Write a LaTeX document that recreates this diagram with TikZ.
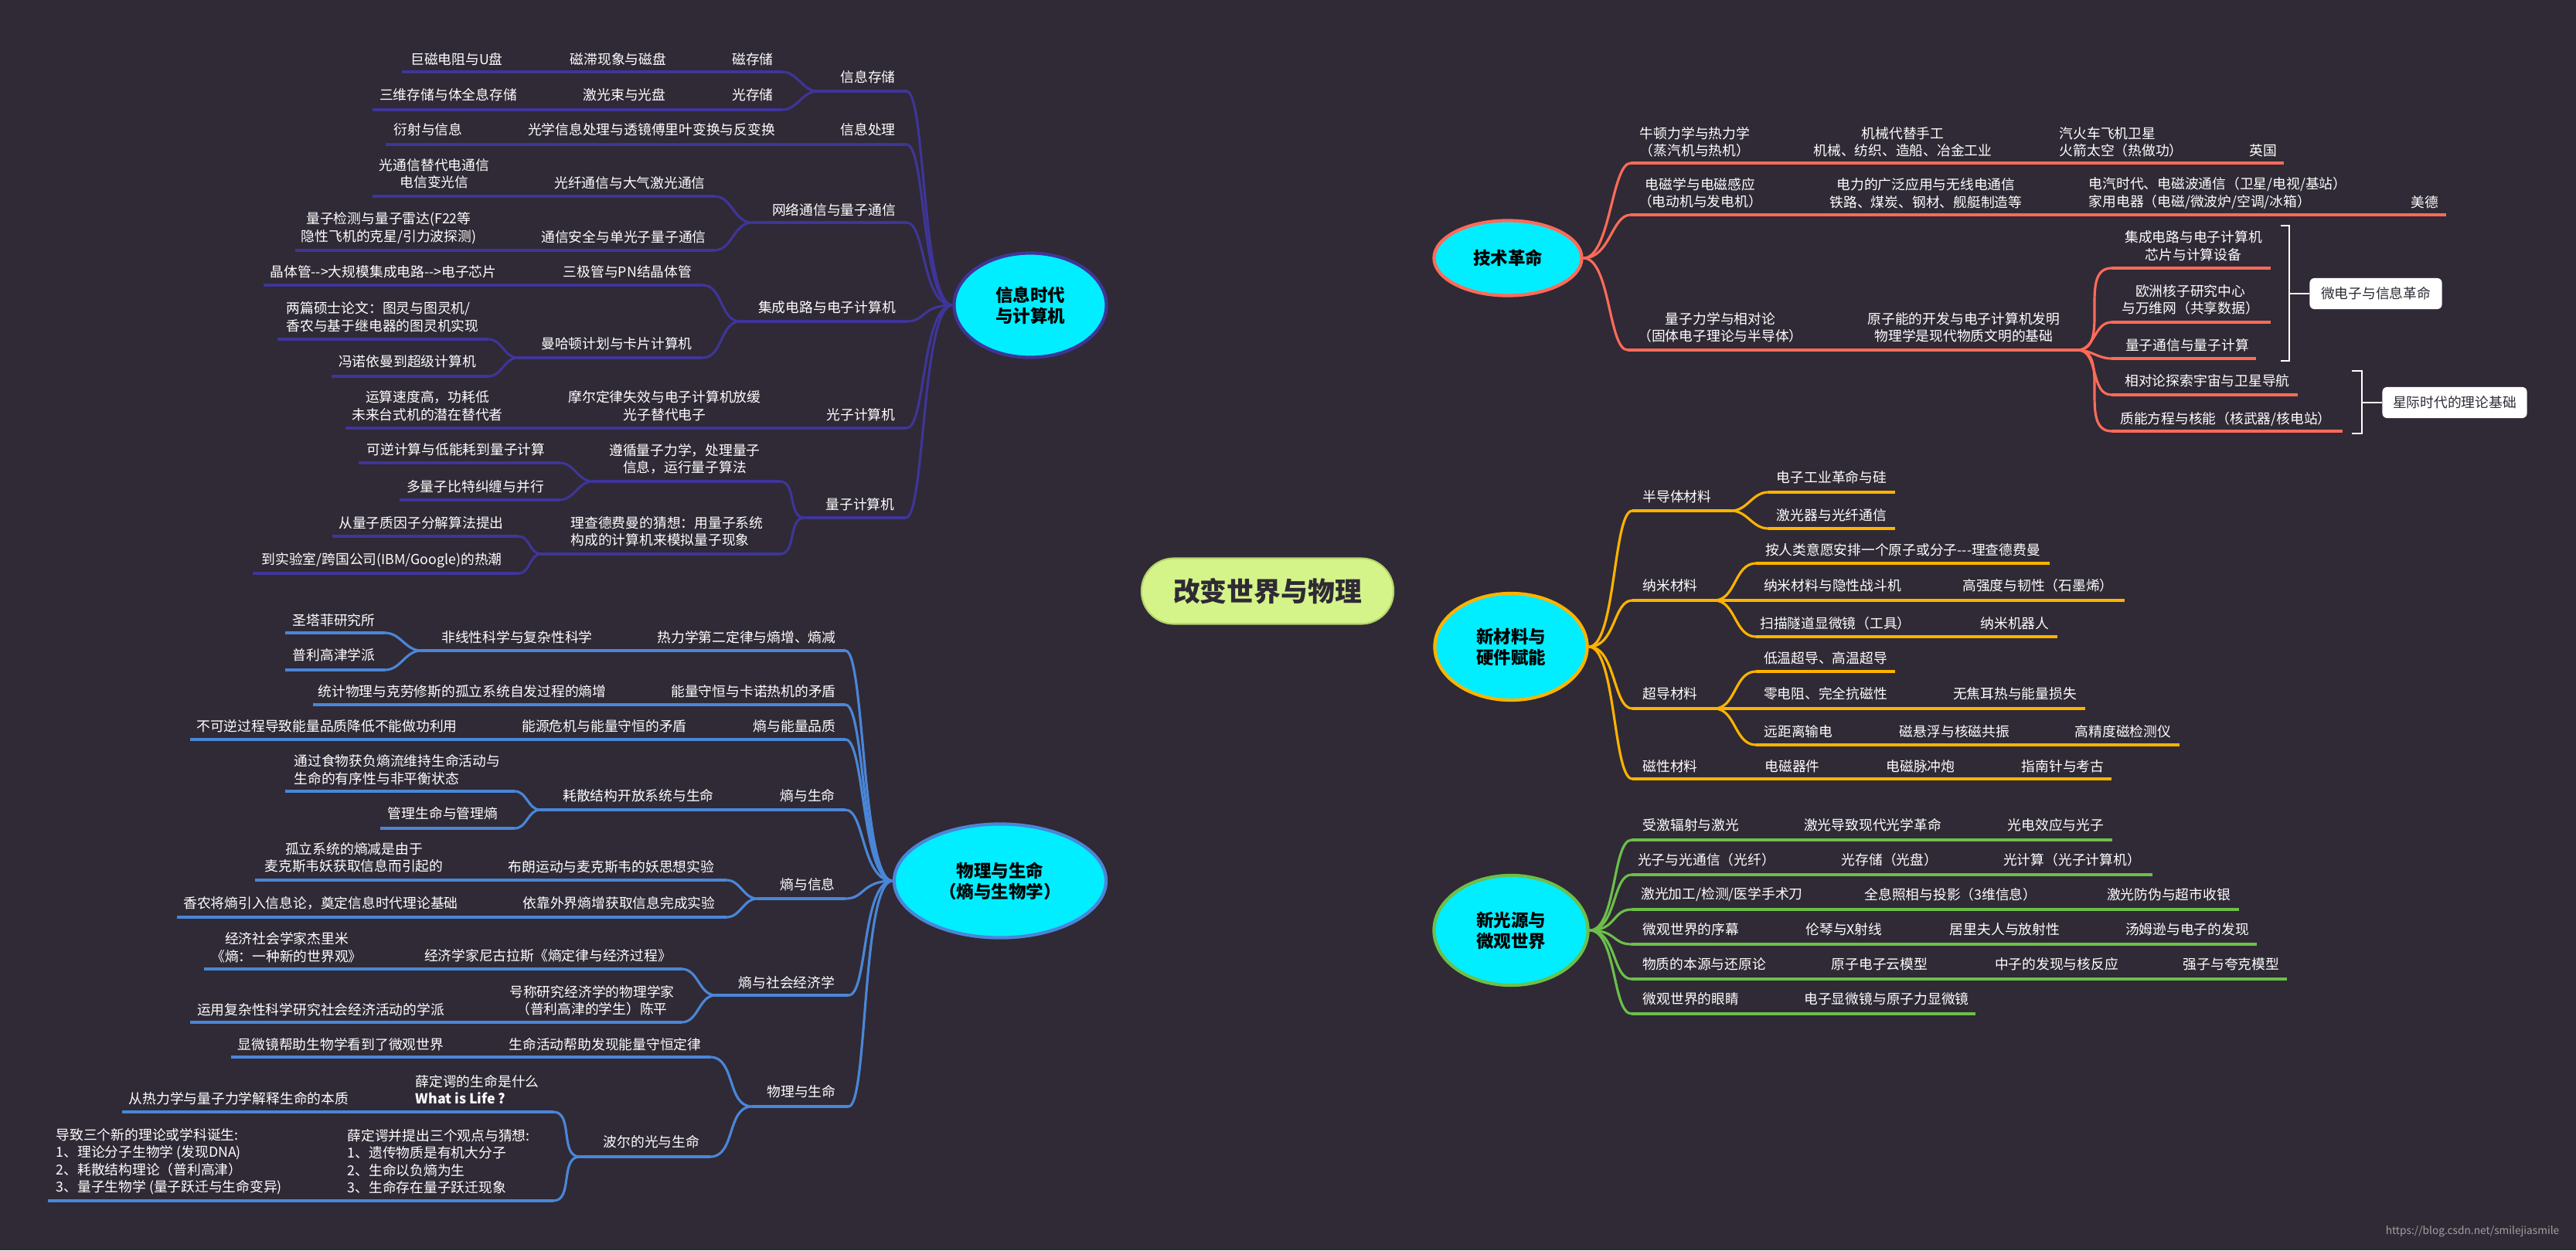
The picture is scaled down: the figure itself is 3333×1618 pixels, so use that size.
\documentclass[tikz,border=0pt]{standalone}
\usepackage{fontspec}
\newfontfamily\cjk{Noto Sans CJK SC}
\usetikzlibrary{shapes.geometric}
\definecolor{bgc}{HTML}{2F2A35}
\definecolor{colP}{HTML}{3F3598}
\definecolor{colB}{HTML}{4A86D8}
\definecolor{colR}{HTML}{FF6B59}
\definecolor{colO}{HTML}{FFB300}
\definecolor{colG}{HTML}{6CBF4A}
\definecolor{cyanf}{HTML}{00EEFF}
\definecolor{colC}{HTML}{D4F48A}
\definecolor{colCd}{HTML}{B5D46A}
\definecolor{wmc}{HTML}{A0A0A0}
\pgfdeclarelayer{lines}
\pgfsetlayers{lines,main}
\newcommand\bline[4]{\coordinate (#1L) at (#2,#4);\coordinate (#1R) at (#3,#4);\draw[sub,draw=\lc] (#1L) -- (#1R);}
\newcommand\conL[2]{\draw[sub,draw=\lc] (#1) to[out=180,in=0] (#2);}
\newcommand\conR[2]{\draw[sub,draw=\lc] (#1) to[out=0,in=180] (#2);}
\newcommand\hubL[2]{\draw[sub,draw=\lc] (#1) .. controls +(-40,0) and +(25,0) .. (#2);}
\newcommand\hubR[2]{\draw[sub,draw=\lc] (#1) .. controls +(35,0) and +(-25,0) .. (#2);}
\begin{document}
\begin{tikzpicture}[x=0.01cm,y=-0.01cm,
  sub/.style={line width=0.9pt},
  trunk/.style={line width=2.2pt},
  txt/.style={text=white,font=\cjk\fontsize{5.05pt}{6.4pt}\selectfont,inner sep=0pt,align=center},
  txtl/.style={txt,align=left,anchor=west},
  topic/.style={ellipse,fill=cyanf,line width=1.2pt,text=black,inner sep=0pt,align=center,font=\cjk\bfseries\fontsize{6.4pt}{7.7pt}\selectfont},
  lab/.style={fill=white,rounded corners=0.06cm,text=bgc,font=\cjk\fontsize{5.05pt}{6.4pt}\selectfont,inner sep=0pt,minimum height=0.4cm},
  brk/.style={draw=white,line width=0.7pt}
]
\fill[bgc] (0,0) rectangle (3333,1618);
\useasboundingbox (0,0) rectangle (3333,1618);

% central and topic nodes
\node[draw=colCd,line width=0.6pt,fill=colC,rounded corners=0.42cm,minimum width=3.26cm,minimum height=0.85cm,inner sep=0pt,text=bgc,font=\cjk\bfseries\fontsize{9.9pt}{11pt}\selectfont] (C) at (1640,765) {改变世界与物理};
\node[topic,draw=colP,minimum width=1.97cm,minimum height=1.35cm] (P) at (1333,395) {信息时代\\与计算机};
\node[topic,draw=colR,minimum width=1.91cm,minimum height=0.97cm] (T) at (1951,334) {技术革命};
\node[topic,draw=colO,minimum width=1.97cm,minimum height=1.38cm] (M) at (1955,837) {新材料与\\硬件赋能};
\node[topic,draw=colG,minimum width=1.99cm,minimum height=1.42cm] (G) at (1955,1204) {新光源与\\微观世界};
\node[topic,draw=colB,minimum width=2.74cm,minimum height=1.47cm] (B) at (1294,1140) {物理与生命\\（熵与生物学）};

\begin{pgfonlayer}{lines}
\draw[trunk,draw=colP] ([xshift=-0.3cm]C.north) .. controls (1545,440) and (1530,395) .. (P.east);
\draw[trunk,draw=colR] ([xshift=0.28cm]C.north) .. controls (1738,440) and (1752,334) .. (T.west);
\draw[trunk,draw=colG] ([xshift=0.31cm]C.south) .. controls (1740,1090) and (1755,1204) .. (G.west);
\draw[trunk,draw=colB] ([xshift=-0.31cm]C.south) .. controls (1550,1060) and (1535,1140) .. (B.east);
\draw[trunk,draw=colO] ([xshift=-0.25cm,yshift=0.04cm]C.south east) .. controls (1800,832) and (1815,837) .. (M.west);
\end{pgfonlayer}

% ===== purple branch =====
\def\lc{colP}
\bline{a}{1058}{1173}{118}\hubL{P.west}{aR}
\node[txt] (t1) at (1123,100) {信息存储};
\bline{a1}{520}{1012}{93}\conL{aL}{a1R}
\node[txt] (t2) at (974,77) {磁存储};
\node[txt] (t3) at (800,77) {磁滞现象与磁盘};
\node[txt] (t4) at (591,77) {巨磁电阻与U盘};
\bline{a2}{482}{1012}{142}\conL{aL}{a2R}
\node[txt] (t5) at (974,123) {光存储};
\node[txt] (t6) at (808,123) {激光束与光盘};
\node[txt] (t7) at (580,123) {三维存储与体全息存储};
\bline{b}{499}{1173}{187}\hubL{P.west}{bR}
\node[txt] (t8) at (1123,168) {信息处理};
\node[txt] (t9) at (843,168) {光学信息处理与透镜傅里叶变换与反变换};
\node[txt] (t10) at (554,168) {衍射与信息};
\bline{c}{973}{1173}{288}\hubL{P.west}{cR}
\node[txt] (t11) at (1079,272) {网络通信与量子通信};
\bline{c1}{482}{924}{254}\conL{cL}{c1R}
\node[txt] (t12) at (815,237) {光纤通信与大气激光通信};
\node[txt] (t13) at (562,225) {光通信替代电通信\\电信变光信};
\bline{c2}{382}{924}{324}\conL{cL}{c2R}
\node[txt] (t14) at (807,307) {通信安全与单光子量子通信};
\node[txt] (t15) at (503,295) {量子检测与量子雷达(F22等\\隐性飞机的克星/引力波探测)};
\bline{d}{958}{1173}{416}\hubL{P.west}{dR}
\node[txt] (t16) at (1070,398) {集成电路与电子计算机};
\bline{d1}{341}{909}{369}\conL{dL}{d1R}
\node[txt] (t17) at (812,352) {三极管与PN结晶体管};
\node[txt] (t18) at (496,352) {晶体管-->大规模集成电路-->电子芯片};
\bline{d2}{670}{909}{463}\conL{dL}{d2R}
\node[txt] (t19) at (798,445) {曼哈顿计划与卡片计算机};
\bline{d21}{359}{632}{439}\conL{d2L}{d21R}
\node[txtl] (t20) at (370,410) {两篇硕士论文：图灵与图灵机/\\香农与基于继电器的图灵机实现};
\bline{d22}{429}{632}{487}\conL{d2L}{d22R}
\node[txt] (t21) at (527,468) {冯诺依曼到超级计算机};
\bline{e}{447}{1173}{554}\hubL{P.west}{eR}
\node[txt] (t22) at (1114,537) {光子计算机};
\node[txt] (t23) at (860,525) {摩尔定律失效与电子计算机放缓\\光子替代电子};
\node[txt] (t24) at (553,525) {运算速度高，功耗低\\未来台式机的潜在替代者};
\bline{f}{1041}{1172}{670}\hubL{P.west}{fR}
\node[txt] (t25) at (1113,653) {量子计算机};
\bline{f1}{767}{1009}{623}\conL{fL}{f1R}
\node[txt] (t26) at (886,594) {遵循量子力学，处理量子\\信息，运行量子算法};
\bline{f11}{464}{724}{599}\conL{f1L}{f11R}
\node[txt] (t27) at (590,582) {可逆计算与低能耗到量子计算};
\bline{f12}{517}{724}{647}\conL{f1L}{f12R}
\node[txt] (t28) at (615,630) {多量子比特纠缠与并行};
\bline{f2}{700}{1009}{717}\conL{fL}{f2R}
\node[txtl] (t29) at (738,688) {理查德费曼的猜想：用量子系统\\构成的计算机来模拟量子现象};
\bline{f21}{430}{671}{694}\conL{f2L}{f21R}
\node[txt] (t30) at (545,677) {从量子质因子分解算法提出};
\bline{f22}{327}{671}{742}\conL{f2L}{f22R}
\node[txt] (t31) at (494,725) {到实验室/跨国公司(IBM/Google)的热潮};

% ===== blue branch =====
\def\lc{colB}
\bline{g}{545}{1094}{842}\hubL{B.west}{gR}
\node[txt] (u1) at (966,825) {热力学第二定律与熵增、熵减};
\node[txt] (u2) at (669,825) {非线性科学与复杂性科学};
\bline{g1}{369}{498}{819}\conL{gL}{g1R}
\node[txt] (u3) at (432,803) {圣塔菲研究所};
\bline{g2}{369}{498}{867}\conL{gL}{g2R}
\node[txt] (u4) at (432,848) {普利高津学派};
\bline{h}{405}{1094}{912}\hubL{B.west}{hR}
\node[txt] (u5) at (975,895) {能量守恒与卡诺热机的矛盾};
\node[txt] (u6) at (598,895) {统计物理与克劳修斯的孤立系统自发过程的熵增};
\bline{i}{246}{1094}{957}\hubL{B.west}{iR}
\node[txt] (u7) at (1028,940) {熵与能量品质};
\node[txt] (u8) at (782,940) {能源危机与能量守恒的矛盾};
\node[txt] (u9) at (423,940) {不可逆过程导致能量品质降低不能做功利用};
\bline{j}{699}{1094}{1048}\hubL{B.west}{jR}
\node[txt] (u10) at (1045,1030) {熵与生命};
\node[txt] (u11) at (826,1030) {耗散结构开放系统与生命};
\bline{j1}{369}{666}{1024}\conL{jL}{j1R}
\node[txtl] (u12) at (380,996) {通过食物获负熵流维持生命活动与\\生命的有序性与非平衡状态};
\bline{j2}{492}{666}{1072}\conL{jL}{j2R}
\node[txt] (u13) at (573,1053) {管理生命与管理熵};
\bline{k}{980}{1094}{1163}\hubL{B.west}{kR}
\node[txt] (u14) at (1045,1145) {熵与信息};
\bline{k1}{330}{940}{1139}\conL{kL}{k1R}
\node[txt] (u15) at (791,1122) {布朗运动与麦克斯韦的妖思想实验};
\node[txt] (u16) at (458,1110) {孤立系统的熵减是由于\\麦克斯韦妖获取信息而引起的};
\bline{k2}{229}{940}{1187}\conL{kL}{k2R}
\node[txt] (u17) at (801,1169) {依靠外界熵增获取信息完成实验};
\node[txt] (u18) at (415,1169) {香农将熵引入信息论，奠定信息时代理论基础};
\bline{l}{926}{1098}{1288}\hubL{B.west}{lR}
\node[txt] (u19) at (1018,1272) {熵与社会经济学};
\bline{l1}{264}{882}{1254}\conL{lL}{l1R}
\node[txt] (u20) at (709,1237) {经济学家尼古拉斯《熵定律与经济过程》};
\node[txt] (u21) at (371,1226) {经济社会学家杰里米\\《熵：一种新的世界观》};
\bline{l2}{246}{882}{1323}\conL{lL}{l2R}
\node[txt] (u22) at (766,1295) {号称研究经济学的物理学家\\（普利高津的学生）陈平};
\node[txt] (u23) at (415,1307) {运用复杂性科学研究社会经济活动的学派};
\bline{m}{973}{1098}{1432}\hubL{B.west}{mR}
\node[txt] (u24) at (1037,1413) {物理与生命};
\bline{m1}{299}{919}{1368}\conL{mL}{m1R}
\node[txt] (u25) at (783,1352) {生命活动帮助发现能量守恒定律};
\node[txt] (u26) at (441,1352) {显微镜帮助生物学看到了微观世界};
\bline{m2}{750}{919}{1497}\conL{mL}{m2R}
\node[txt] (u27) at (843,1478) {波尔的光与生命};
\bline{m21}{158}{716}{1439}\conL{m2L}{m21R}
\node[txtl] (u28) at (537,1410) {薛定谔的生命是什么\\{\bfseries What is Life ?}};
\node[txt] (u29) at (309,1422) {从热力学与量子力学解释生命的本质};
\bline{m22}{62}{716}{1554}\conL{m2L}{m22R}
\node[txtl] (u30) at (449,1503) {薛定谔并提出三个观点与猜想:\\1、遗传物质是有机大分子\\2、生命以负熵为生\\3、生命存在量子跃迁现象};
\node[txtl] (u31) at (72,1503) {导致三个新的理论或学科诞生:\\1、理论分子生物学 (发现DNA)\\2、耗散结构理论（普利高津）\\3、量子生物学 (量子跃迁与生命变异)};

% ===== red branch =====
\def\lc{colR}
\bline{n}{2110}{2955}{211}\hubR{T.east}{nL}
\node[txt] (v1) at (2193,184) {牛顿力学与热力学\\（蒸汽机与热机）};
\node[txt] (v2) at (2462,184) {机械代替手工\\机械、纺织、造船、冶金工业};
\node[txtl] (v3) at (2664,184) {汽火车飞机卫星\\火箭太空（热做功）};
\node[txt] (v4) at (2928,195) {英国};
\bline{o}{2110}{3165}{278}\hubR{T.east}{oL}
\node[txt] (v5) at (2200,250) {电磁学与电磁感应\\（电动机与发电机）};
\node[txt] (v6) at (2492,250) {电力的广泛应用与无线电通信\\铁路、煤炭、钢材、舰艇制造等};
\node[txtl] (v7) at (2702,250) {电汽时代、电磁波通信（卫星/电视/基站）\\家用电器（电磁/微波炉/空调/冰箱）};
\node[txt] (v8) at (3137,262) {美德};
\bline{q}{2106}{2688}{453}\hubR{T.east}{qL}
\node[txt] (v9) at (2226,424) {量子力学与相对论\\（固体电子理论与半导体）};
\node[txt] (v10) at (2541,424) {原子能的开发与电子计算机发明\\物理学是现代物质文明的基础};
\bline{q1}{2732}{2938}{347}\conR{qR}{q1L}
\node[txt] (v11) at (2838,318) {集成电路与电子计算机\\芯片与计算设备};
\bline{q2}{2732}{2938}{417}\conR{qR}{q2L}
\node[txt] (v12) at (2834,388) {欧洲核子研究中心\\与万维网（共享数据）};
\bline{q3}{2732}{2919}{464}\conR{qR}{q3L}
\node[txt] (v13) at (2830,447) {量子通信与量子计算};
\bline{q4}{2732}{2973}{511}\conR{qR}{q4L}
\node[txt] (v14) at (2856,493) {相对论探索宇宙与卫星导航};
\bline{q5}{2732}{3031}{558}\conR{qR}{q5L}
\node[txt] (v15) at (2880,542) {质能方程与核能（核武器/核电站）};
\draw[brk] (2951,292) -- (2962,292) -- (2962,467) -- (2951,467);
\coordinate (bk1) at (2962,380);
\node[lab,minimum width=1.71cm] (lb1) at (3074,380) {微电子与信息革命};
\draw[brk] (bk1) -- (lb1.west);
\draw[brk] (3043,480) -- (3056,480) -- (3056,561) -- (3043,561);
\coordinate (bk2) at (3056,521);
\node[lab,minimum width=1.87cm] (lb2) at (3176,521) {星际时代的理论基础};
\draw[brk] (bk2) -- (lb2.west);

% ===== orange branch =====
\def\lc{colO}
\bline{r}{2112}{2240}{661}\hubR{M.east}{rL}
\node[txt] (x1) at (2170,643) {半导体材料};
\bline{r1}{2288}{2452}{637}\conR{rR}{r1L}
\node[txt] (x2) at (2370,618) {电子工业革命与硅};
\bline{r2}{2288}{2452}{684}\conR{rR}{r2L}
\node[txt] (x3) at (2370,667) {激光器与光纤通信};
\bline{s}{2112}{2218}{777}\hubR{M.east}{sL}
\node[txt] (x4) at (2161,758) {纳米材料};
\bline{s1}{2272}{2652}{729}\conR{sR}{s1L}
\node[txt] (x5) at (2462,712) {按人类意愿安排一个原子或分子---理查德费曼};
\bline{s2}{2272}{2749}{777}\conR{sR}{s2L}
\node[txt] (x6) at (2371,758) {纳米材料与隐性战斗机};
\node[txt] (x7) at (2637,758) {高强度与韧性（石墨烯）};
\bline{s3}{2272}{2662}{824}\conR{sR}{s3L}
\node[txt] (x8) at (2375,807) {扫描隧道显微镜（工具）};
\node[txt] (x9) at (2607,807) {纳米机器人};
\bline{w}{2112}{2218}{917}\hubR{M.east}{wL}
\node[txt] (x10) at (2161,898) {超导材料};
\bline{w1}{2272}{2452}{869}\conR{wR}{w1L}
\node[txt] (x11) at (2362,852) {低温超导、高温超导};
\bline{w2}{2272}{2698}{917}\conR{wR}{w2L}
\node[txt] (x12) at (2362,898) {零电阻、完全抗磁性};
\node[txt] (x13) at (2607,898) {无焦耳热与能量损失};
\bline{w3}{2272}{2820}{964}\conR{wR}{w3L}
\node[txt] (x14) at (2327,947) {远距离输电};
\node[txt] (x15) at (2529,947) {磁悬浮与核磁共振};
\node[txt] (x16) at (2747,947) {高精度磁检测仪};
\bline{yy}{2112}{2732}{1008}\hubR{M.east}{yyL}
\node[txt] (x17) at (2161,992) {磁性材料};
\node[txt] (x18) at (2319,992) {电磁器件};
\node[txt] (x19) at (2485,992) {电磁脉冲炮};
\node[txt] (x20) at (2669,992) {指南针与考古};

% ===== green branch =====
\def\lc{colG}
\bline{z1}{2111}{2733}{1087}\hubR{G.east}{z1L}
\node[txt] (g1) at (2188,1068) {受激辐射与激光};
\node[txt] (g2) at (2423,1068) {激光导致现代光学革命};
\node[txt] (g3) at (2660,1068) {光电效应与光子};
\bline{z2}{2111}{2785}{1132}\hubR{G.east}{z2L}
\node[txt] (g4) at (2208,1113) {光子与光通信（光纤）};
\node[txt] (g5) at (2445,1113) {光存储（光盘）};
\node[txt] (g6) at (2681,1113) {光计算（光子计算机）};
\bline{z3}{2111}{2897}{1177}\hubR{G.east}{z3L}
\node[txt] (g7) at (2228,1158) {激光加工/检测/医学手术刀};
\node[txt] (g8) at (2524,1158) {全息照相与投影（3维信息）};
\node[txt] (g9) at (2806,1158) {激光防伪与超市收银};
\bline{z4}{2111}{2920}{1222}\hubR{G.east}{z4L}
\node[txt] (g10) at (2188,1203) {微观世界的序幕};
\node[txt] (g11) at (2386,1203) {伦琴与X射线};
\node[txt] (g12) at (2594,1203) {居里夫人与放射性};
\node[txt] (g13) at (2830,1203) {汤姆逊与电子的发现};
\bline{z5}{2111}{2959}{1267}\hubR{G.east}{z5L}
\node[txt] (g14) at (2205,1248) {物质的本源与还原论};
\node[txt] (g15) at (2432,1248) {原子电子云模型};
\node[txt] (g16) at (2661,1248) {中子的发现与核反应};
\node[txt] (g17) at (2887,1248) {强子与夸克模型};
\bline{z6}{2111}{2556}{1312}\hubR{G.east}{z6L}
\node[txt] (g18) at (2188,1293) {微观世界的眼睛};
\node[txt] (g19) at (2441,1293) {电子显微镜与原子力显微镜};

\node[text=wmc,font=\cjk\fontsize{3.9pt}{4.5pt}\selectfont,inner sep=0pt] (wmk) at (3199,1594) {https://blog.csdn.net/smilejiasmile};
\end{tikzpicture}
\end{document}
